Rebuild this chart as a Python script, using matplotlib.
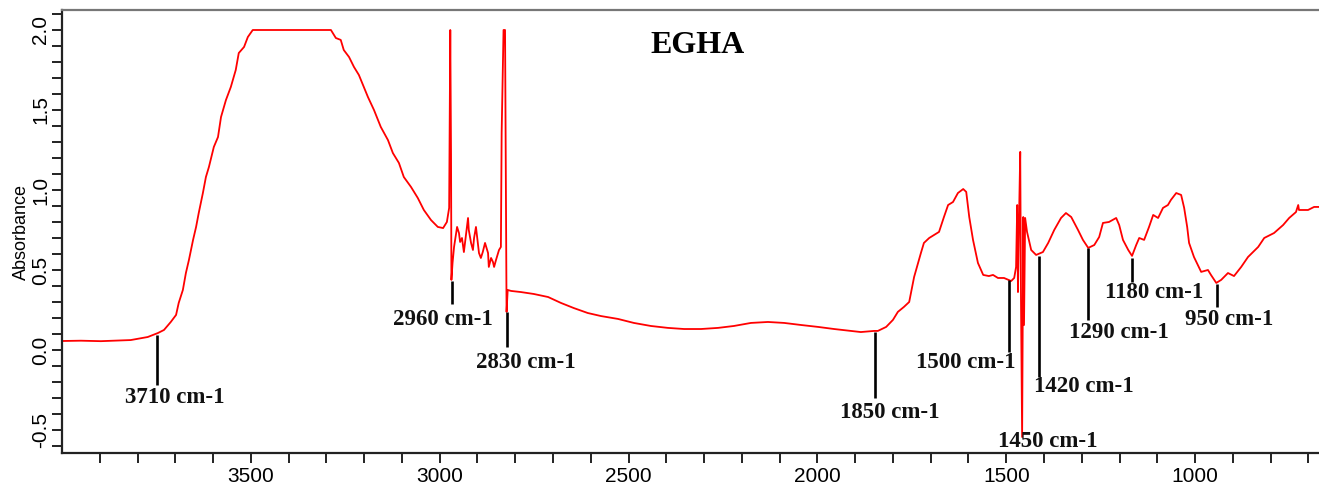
import matplotlib
matplotlib.use("Agg")
import matplotlib.pyplot as plt
from matplotlib.ticker import FixedLocator

# spectrum (wavenumber in cm-1, absorbance)
wavenumber = [
    4000, 3950, 3897, 3844, 3818, 3773, 3746, 3730, 3712, 3698,
    3691, 3680, 3672, 3664, 3653, 3645, 3638, 3627, 3619, 3611,
    3598, 3587, 3579, 3566, 3553, 3540, 3532, 3518, 3508, 3495,
    3288, 3275, 3262, 3254, 3240, 3227, 3214, 3201, 3190, 3174,
    3156, 3137, 3124, 3108, 3095, 3076, 3058, 3042, 3023, 3005,
    2991, 2981, 2975, 2972, 2970, 2969, 2966, 2962, 2954, 2949,
    2946, 2941, 2936, 2925, 2923, 2917, 2912, 2909, 2904, 2899,
    2896, 2891, 2886, 2880, 2872, 2870, 2864, 2859, 2856, 2851,
    2843, 2838, 2836, 2831, 2827, 2825, 2823, 2820, 2811, 2785,
    2751, 2713, 2679, 2645, 2608, 2573, 2528, 2486, 2441, 2396,
    2353, 2308, 2263, 2221, 2176, 2131, 2088, 2043, 1998, 1956,
    1911, 1885, 1850, 1840, 1818, 1800, 1787, 1771, 1757, 1744,
    1726, 1718, 1704, 1691, 1678, 1665, 1654, 1641, 1628, 1614,
    1606, 1598, 1588, 1575, 1561, 1546, 1535, 1522, 1506, 1487,
    1479, 1474, 1471, 1469, 1466, 1463, 1461, 1458, 1455, 1453,
    1450, 1445, 1434, 1421, 1403, 1389, 1373, 1355, 1342, 1328,
    1310, 1297, 1283, 1267, 1254, 1244, 1228, 1209, 1201, 1191,
    1177, 1167, 1156, 1148, 1135, 1122, 1111, 1098, 1085, 1072,
    1064, 1050, 1037, 1029, 1021, 1016, 1003, 984, 966, 958,
    944, 931, 913, 897, 878, 860, 833, 817, 791, 767,
    751, 733, 727, 725, 701, 685, 669,
]
absorbance = [
    0.056, 0.058, 0.055, 0.060, 0.062, 0.081, 0.106, 0.125, 0.175, 0.219,
    0.294, 0.375, 0.481, 0.562, 0.688, 0.769, 0.856, 0.981, 1.081, 1.144,
    1.269, 1.331, 1.456, 1.562, 1.644, 1.750, 1.856, 1.894, 1.956, 2.000,
    2.000, 1.950, 1.938, 1.875, 1.831, 1.769, 1.719, 1.644, 1.581, 1.500,
    1.394, 1.312, 1.231, 1.169, 1.081, 1.019, 0.950, 0.875, 0.812, 0.769,
    0.762, 0.800, 0.888, 2.000, 1.220, 0.438, 0.544, 0.644, 0.769, 0.731,
    0.675, 0.700, 0.612, 0.825, 0.750, 0.669, 0.625, 0.700, 0.769, 0.669,
    0.606, 0.575, 0.612, 0.669, 0.606, 0.519, 0.575, 0.550, 0.519, 0.562,
    0.625, 0.644, 1.356, 2.000, 2.000, 1.112, 0.238, 0.375, 0.369, 0.362,
    0.350, 0.331, 0.294, 0.262, 0.231, 0.212, 0.194, 0.169, 0.150, 0.138,
    0.131, 0.131, 0.138, 0.150, 0.169, 0.175, 0.169, 0.156, 0.144, 0.131,
    0.119, 0.112, 0.119, 0.119, 0.144, 0.188, 0.238, 0.269, 0.300, 0.456,
    0.606, 0.669, 0.700, 0.719, 0.738, 0.831, 0.906, 0.925, 0.981, 1.006,
    0.988, 0.831, 0.688, 0.544, 0.469, 0.462, 0.469, 0.450, 0.450, 0.431,
    0.450, 0.519, 0.906, 0.362, 0.844, 1.238, 0.312, -0.544, 0.831, 0.156,
    0.825, 0.738, 0.625, 0.594, 0.612, 0.669, 0.750, 0.825, 0.856, 0.831,
    0.750, 0.688, 0.638, 0.656, 0.706, 0.794, 0.800, 0.825, 0.781, 0.688,
    0.625, 0.588, 0.656, 0.700, 0.688, 0.769, 0.844, 0.825, 0.888, 0.906,
    0.938, 0.981, 0.969, 0.888, 0.769, 0.669, 0.581, 0.488, 0.500, 0.469,
    0.419, 0.438, 0.481, 0.462, 0.519, 0.581, 0.644, 0.700, 0.731, 0.781,
    0.825, 0.862, 0.906, 0.875, 0.875, 0.894, 0.894,
]

# peak marker lines (where drawn) and their labels
marker_wn = [3749, 2968, 2823, 1847, 1493, 1413, 1283, 1167, 942]
marker_top = [0.094, 0.43, 0.24, 0.11, 0.44, 0.59, 0.64, 0.575, 0.41]
marker_bottom = [-0.219, 0.29, 0.02, -0.30, -0.01, -0.17, 0.19, 0.425, 0.27]

peak_labels = ["3710 cm-1", "2960 cm-1", "2830 cm-1", "1850 cm-1", "1500 cm-1",
               "1450 cm-1", "1420 cm-1", "1290 cm-1", "1180 cm-1", "950 cm-1"]
label_x = [3701, 2991, 2772, 1808, 1606, 1389, 1294, 1201, 1109, 910]
label_y = [-0.30, 0.19, -0.08, -0.39, -0.08, -0.57, -0.23, 0.11, 0.36, 0.19]

x_major = [3500, 3000, 2500, 2000, 1500, 1000]
x_minor = [3900, 3800, 3700, 3600, 3400, 3300, 3200, 3100, 2900, 2800, 2700, 2600,
           2400, 2300, 2200, 2100, 1900, 1800, 1700, 1600, 1400, 1300, 1200, 1100,
           900, 800, 700]
y_major = [-0.5, 0.0, 0.5, 1.0, 1.5, 2.0]
y_minor = [-0.6, -0.4, -0.3, -0.2, -0.1, 0.1, 0.2, 0.3, 0.4, 0.6, 0.7, 0.8, 0.9,
           1.1, 1.2, 1.3, 1.4, 1.6, 1.7, 1.8, 1.9, 2.1]

plt.rcParams['font.family'] = ['Liberation Sans', 'DejaVu Sans']

fig = plt.figure(figsize=(13.19, 4.86), dpi=100)
ax = fig.add_axes([62 / 1319, 33 / 486, 1257 / 1319, 443 / 486])

ax.plot(wavenumber, absorbance, color='#ff0000', lw=1.3)
ax.vlines(marker_wn, marker_bottom, marker_top, color='black', lw=1.9)

for txt, x, y in zip(peak_labels, label_x, label_y):
    ax.text(x, y, txt, ha='center', va='center', fontsize=16.5,
            fontweight='bold', family='Liberation Serif', color='#111111')

ax.text(2317, 1.90, "EGHA", ha='center', va='center', fontsize=23,
        fontweight='bold', family='Liberation Serif', color='black')

ax.set_xlim(4000, 672)
ax.set_ylim(-0.644, 2.125)

ax.xaxis.set_major_locator(FixedLocator(x_major))
ax.xaxis.set_minor_locator(FixedLocator(x_minor))
ax.yaxis.set_major_locator(FixedLocator(y_major))
ax.yaxis.set_minor_locator(FixedLocator(y_minor))
ax.set_xticklabels([str(v) for v in x_major])
ax.set_yticklabels(["%.1f" % v for v in y_major])

ax.tick_params(which='both', direction='out', width=1.4, color='#222222')
ax.tick_params(axis='x', which='both', length=7, labelsize=15, pad=3)
ax.tick_params(axis='y', which='both', length=7.5, labelsize=15, pad=1)
for lab in ax.get_yticklabels():
    lab.set_rotation(90)
    lab.set_va('center')
    lab.set_ha('right')

ax.set_ylabel("Absorbance", fontsize=13, labelpad=1)

ax.spines['right'].set_visible(False)
ax.spines['left'].set_linewidth(1.6)
ax.spines['bottom'].set_linewidth(1.6)
ax.spines['left'].set_color('#222222')
ax.spines['bottom'].set_color('#222222')
ax.spines['top'].set_linewidth(1.6)
ax.spines['top'].set_color('#777777')

fig.savefig("out.png", dpi=100)
